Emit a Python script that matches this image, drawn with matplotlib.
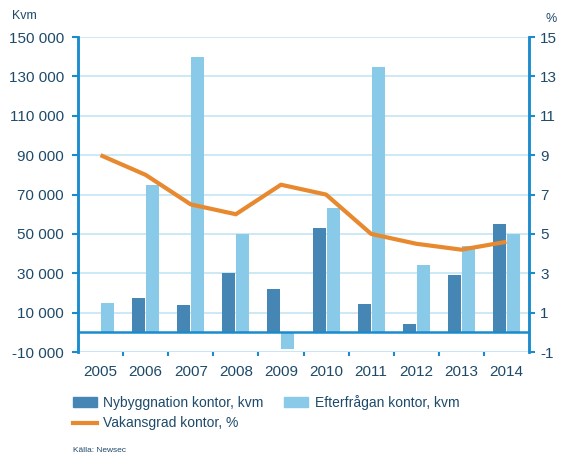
import matplotlib.pyplot as plt
import numpy as np
from matplotlib.patches import Patch
from matplotlib.lines import Line2D

plt.rcParams['font.family'] = ['Liberation Sans', 'DejaVu Sans']
plt.rcParams['axes.unicode_minus'] = False

years = ['2005', '2006', '2007', '2008', '2009', '2010', '2011', '2012', '2013', '2014']
nybyggnation = [0, 17500, 14000, 30000, 22000, 53000, 14500, 4200, 29000, 55000]
efterfragan = [15000, 75000, 140000, 50000, -8500, 63000, 135000, 34000, 44000, 50000]
vakansgrad = [9.0, 8.0, 6.5, 6.0, 7.5, 7.0, 5.0, 4.5, 4.2, 4.6]

left_ticks = list(range(-10000, 150001, 20000))
right_ticks = list(range(-1, 16, 2))

DARK = '#4586b4'
LIGHT = '#88cae8'
ORANGE = '#e8892f'
GRID = '#c8e7f6'
AXIS = '#1a8bcd'
TEXT = '#1e4a6a'

fig = plt.figure(figsize=(5.61, 4.58), dpi=100)
ax = fig.add_axes([0.139, 0.2314, 0.804, 0.6876])
ax2 = ax.twinx()

x = np.arange(len(years))
w = 0.29
ax.bar(x - 0.155, nybyggnation, w, color=DARK, zorder=3)
ax.bar(x + 0.155, efterfragan, w, color=LIGHT, zorder=3)
ax.axhline(0, color=AXIS, lw=1.8, zorder=4)

ax.set_xlim(-0.5, len(years) - 0.5)
ax.set_ylim(-10000, 150000)
ax.set_yticks(left_ticks)
ax.set_yticklabels([f'{v:,}'.replace(',', ' ') for v in left_ticks])
ax.grid(axis='y', color=GRID, lw=1.3, zorder=0)
ax.set_axisbelow(True)

ax.set_xticks(x)
ax.set_xticklabels(years)
ax.set_xticks(np.arange(0.5, len(years) - 0.5), minor=True)
ax.tick_params(axis='x', which='major', length=0, pad=9, labelsize=11, labelcolor=TEXT)
ax.tick_params(axis='x', which='minor', length=3, width=1.5, color=AXIS, direction='out')
ax.tick_params(axis='y', length=4, width=1.5, color=AXIS, labelsize=11, labelcolor=TEXT, pad=6)

ax2.plot(x, vakansgrad, color=ORANGE, lw=3, solid_capstyle='butt', zorder=5)
ax2.set_ylim(-1, 15)
ax2.set_yticks(right_ticks)
ax2.tick_params(axis='y', length=4, width=1.5, color=AXIS, labelsize=11, labelcolor=TEXT, pad=4)

for a in (ax, ax2):
    a.spines['top'].set_visible(False)
    a.spines['bottom'].set_visible(False)
    a.spines['left'].set_color(AXIS)
    a.spines['right'].set_color(AXIS)
    a.spines['left'].set_linewidth(1.8)
    a.spines['right'].set_linewidth(1.8)
ax.set_zorder(ax2.get_zorder() - 1)
ax2.patch.set_visible(False)
ax.hlines(-10000, -0.5, len(years) - 0.5, color=GRID, lw=1.3, zorder=1)

fig.text(0.021, 0.965, 'Kvm', color=TEXT, fontsize=9, va='center')
fig.text(0.972, 0.958, '%', color=TEXT, fontsize=9, va='center')

handles = [
    Patch(color=DARK, label='Nybyggnation kontor, kvm'),
    Line2D([], [], color=ORANGE, lw=3, label='Vakansgrad kontor, %'),
    Patch(color=LIGHT, label='Efterfrågan kontor, kvm'),
]
fig.legend(handles=handles, ncol=2, loc='upper left', bbox_to_anchor=(0.13, 0.137),
           frameon=False, fontsize=10, labelcolor=TEXT, handlelength=1.7,
           handleheight=0.75, columnspacing=1.45, labelspacing=0.45, handletextpad=0.5,
           borderaxespad=0, borderpad=0)

fig.text(0.13, 0.017, 'Källa: Newsec', color=TEXT, fontsize=6, va='center')

fig.savefig('out.png', dpi=100)
